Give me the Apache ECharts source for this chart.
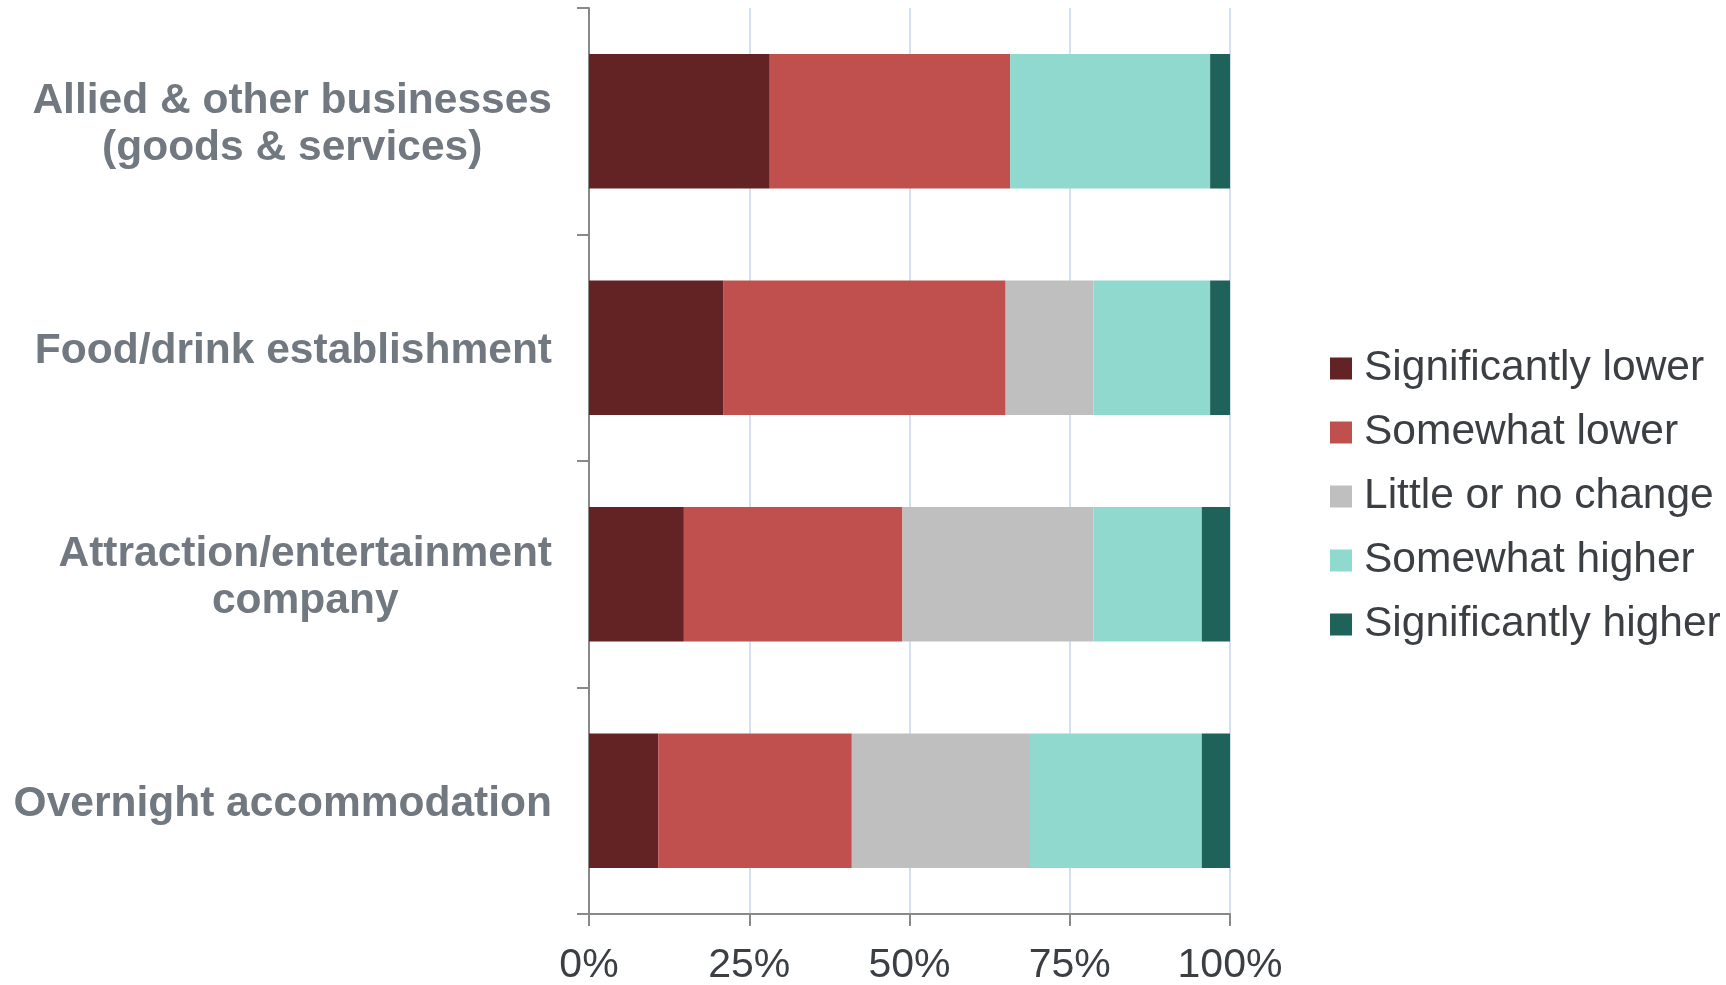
<!DOCTYPE html>
<html>
<head>
<meta charset="utf-8">
<title>Expected change by business type</title>
<script src="https://cdn.jsdelivr.net/npm/echarts@6/dist/echarts.min.js"></script>
<style>
  html, body { margin: 0; padding: 0; background: #ffffff; }
  #chart { width: 1726px; height: 985px; }
</style>
</head>
<body>
<div id="chart"></div>
<script>
// Business types, listed top to bottom
const categories = [
  'Allied & other businesses\n(goods & services)',
  'Food/drink establishment',
  'Attraction/entertainment\ncompany',
  'Overnight accommodation'
];

// Share of respondents (%) for each response
const significantlyLower  = [28.2, 21.0, 14.8, 10.8];
const somewhatLower       = [37.5, 44.0, 34.1, 30.2];
const littleOrNoChange    = [0.0, 13.7, 29.8, 27.8];
const somewhatHigher      = [31.2, 18.2, 16.9, 26.8];
const significantlyHigher = [3.1, 3.1, 4.4, 4.4];

const seriesNames = [
  'Significantly lower',
  'Somewhat lower',
  'Little or no change',
  'Somewhat higher',
  'Significantly higher'
];
const seriesValues = [significantlyLower, somewhatLower, littleOrNoChange, somewhatHigher, significantlyHigher];
const seriesColors = ['#632324', '#c0504d', '#bfbfbf', '#8fd9cf', '#1f625a'];

const xTicks = [0, 25, 50, 75, 100];

const FONT = '"Liberation Sans", Arial, Helvetica, sans-serif';

const chart = echarts.init(document.getElementById('chart'));

chart.setOption({
  backgroundColor: '#ffffff',
  animation: false,
  grid: {
    left: 589,
    top: 8,
    width: 641,
    height: 906,
    outerBoundsMode: 'none'
  },
  legend: {
    orient: 'vertical',
    left: 1325,
    top: 342,
    icon: 'rect',
    itemWidth: 22,
    itemHeight: 22,
    itemGap: 21,
    data: seriesNames,
    textStyle: {
      fontFamily: FONT,
      fontSize: 42.5,
      lineHeight: 42,
      color: '#3b3f44',
      padding: [0, 0, 0, 7]
    }
  },
  xAxis: {
    type: 'value',
    min: xTicks[0],
    max: xTicks[xTicks.length - 1],
    interval: 25,
    axisLine: { show: true, lineStyle: { color: '#898989', width: 2 } },
    axisTick: { show: true, length: 12, lineStyle: { color: '#898989', width: 2 } },
    splitLine: { show: true, lineStyle: { color: '#c7d6ea', width: 1.5 } },
    axisLabel: {
      margin: 31,
      fontFamily: FONT,
      fontSize: 41,
      color: '#3b3f44',
      formatter: (v) => v + '%'
    }
  },
  yAxis: {
    type: 'category',
    inverse: true,
    data: categories,
    axisLine: { show: true, lineStyle: { color: '#898989', width: 2 } },
    axisTick: { show: true, length: 12, alignWithLabel: false, lineStyle: { color: '#898989', width: 2 } },
    splitLine: { show: false },
    axisLabel: {
      margin: 37,
      align: 'right',
      padding: [7, 0, 0, 0],
      formatter: (v) => v.split('\n').map((line) => '{c|' + line + '}').join('\n'),
      rich: {
        c: {
          align: 'center',
          fontFamily: FONT,
          fontSize: 42.5,
          fontWeight: 'bold',
          lineHeight: 47,
          color: '#717880'
        }
      }
    }
  },
  series: seriesNames.map((name, i) => ({
    name: name,
    type: 'bar',
    stack: 'total',
    barCategoryGap: '40.6%',
    itemStyle: { color: seriesColors[i] },
    emphasis: { disabled: true },
    data: seriesValues[i]
  }))
});
</script>
</body>
</html>
